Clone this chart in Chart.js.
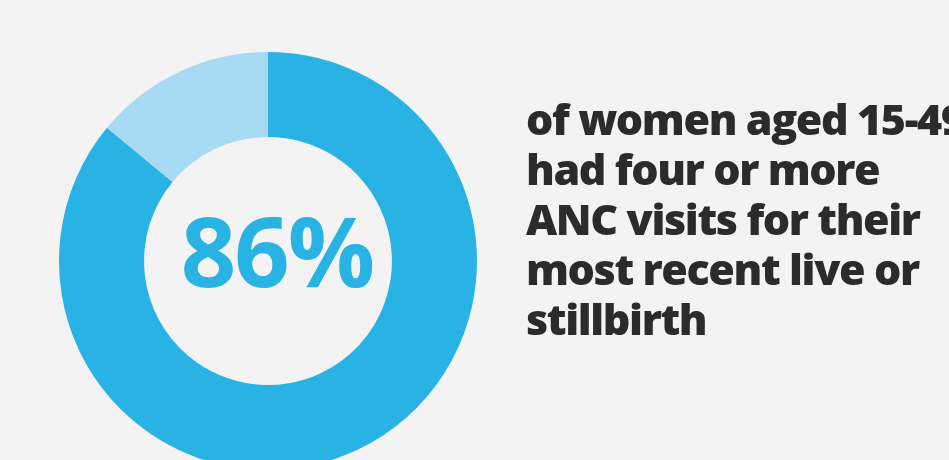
<!DOCTYPE html>
<html lang="en">
<head>
    <meta charset="UTF-8">
    <title>ANC visits</title>
    <script src="https://cdn.jsdelivr.net/npm/chart.js"></script>
    <style>
        html, body { margin: 0; padding: 0; background: #f3f3f3; overflow: hidden; }
        #wrap { position: relative; width: 949px; height: 460px; }
    </style>
</head>
<body>
<div id="wrap"><canvas id="donut" width="949" height="460"></canvas></div>
<script>
    // data
    const categories = ['Four or more ANC visits', 'Fewer than four'];
    const shares = [86, 14];
    const centerLabel = '86%';
    const captionLines = [
        'of women aged 15-49',
        'had four or more',
        'ANC visits for their',
        'most recent live or',
        'stillbirth'
    ];

    const blue = '#29b3e4';
    const paleBlue = '#a6dbf3';

    // center value + caption on the right
    const textPlugin = {
        id: 'donutText',
        afterDraw(chart) {
            const ctx = chart.ctx;
            const arc = chart.getDatasetMeta(0).data[0];
            ctx.save();
            ctx.fillStyle = blue;
            ctx.font = 'bold 97px "Open Sans"';
            ctx.letterSpacing = '-2px';
            ctx.textAlign = 'center';
            ctx.textBaseline = 'middle';
            ctx.fillText(centerLabel, arc.x + 9, arc.y - 2);

            ctx.fillStyle = '#2b2b2b';
            ctx.font = '800 43px "Open Sans"';
            ctx.letterSpacing = '-1.4px';
            ctx.textAlign = 'left';
            ctx.textBaseline = 'alphabetic';
            captionLines.forEach((line, i) => {
                ctx.fillText(line, 526, 135 + i * 50);
            });
            ctx.restore();
        }
    };

    new Chart(document.getElementById('donut'), {
        type: 'doughnut',
        data: {
            labels: categories,
            datasets: [{
                data: shares,
                backgroundColor: [blue, paleBlue],
                borderWidth: 0,
                hoverOffset: 0,
                clip: false
            }]
        },
        options: {
            responsive: false,
            animation: false,
            radius: 209,
            cutout: '59.3%',
            layout: { padding: { left: 0, right: 413, top: 62, bottom: 0 } },
            plugins: {
                legend: { display: false },
                tooltip: { enabled: false }
            }
        },
        plugins: [textPlugin]
    });
</script>
</body>
</html>
